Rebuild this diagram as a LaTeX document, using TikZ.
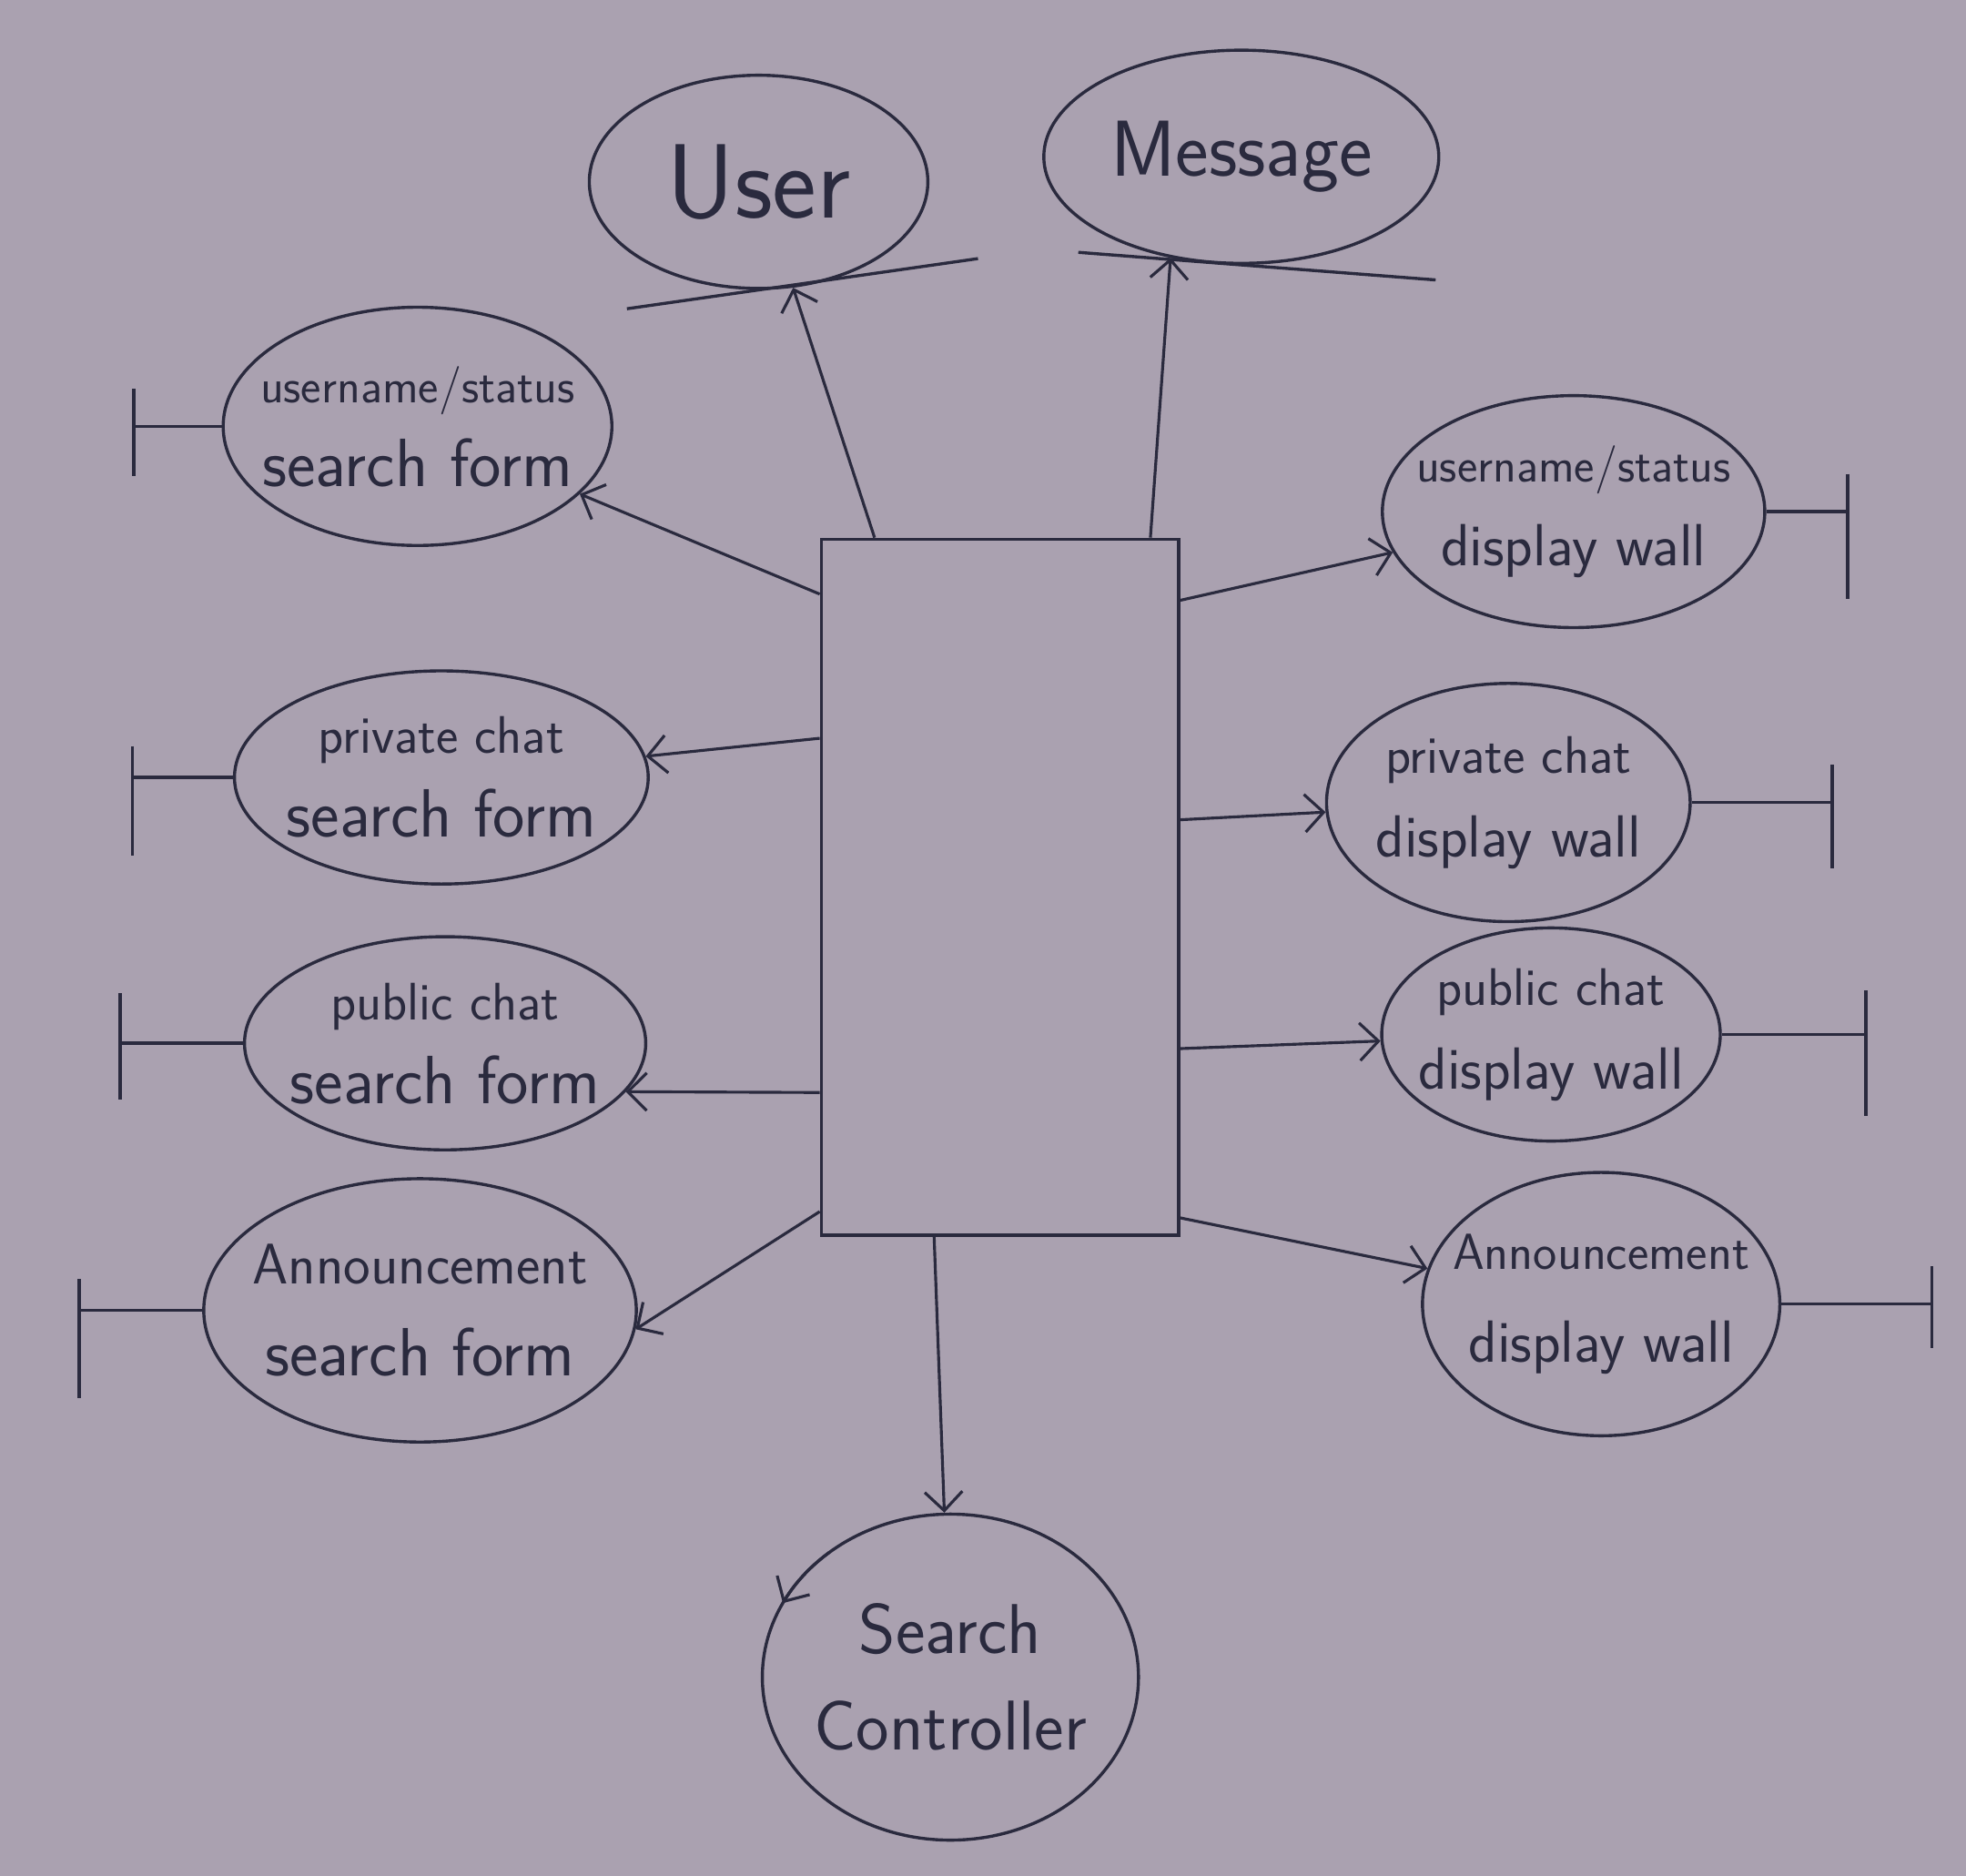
\documentclass[tikz,border=0pt]{standalone}
\usepackage{fontspec}
\usetikzlibrary{shapes, arrows.meta, calc, positioning}
\definecolor{paper}{RGB}{170,161,176}
\definecolor{ink}{RGB}{42,42,62}
\newcommand{\smalltxt}[1]{{\fontsize{22}{26}\selectfont #1}}
\newcommand{\midtxt}[1]{{\fontsize{24}{28}\selectfont #1}}
\newcommand{\bigtxt}[1]{{\fontsize{31}{36}\selectfont #1}}
\newcommand{\walltxt}[1]{{\fontsize{27}{32}\selectfont #1}}
\tikzstyle{boundary} = [ellipse, draw=ink, line width=1.4pt, inner sep=0pt]
\tikzstyle{entity} = [ellipse, draw=ink, line width=1.4pt, inner sep=0pt]
\tikzstyle{control} = [ellipse, draw=ink, line width=1.4pt, inner sep=0pt]
\tikzstyle{arr} = [-{Straight Barb[length=3mm,width=6mm]}, draw=ink, line width=1.3pt]
\tikzstyle{stub} = [draw=ink, line width=1.4pt]
\tikzset{every label/.style={text=ink, font=\sffamily\fontsize{27}{38}\selectfont, align=center}}

\begin{document}
\begin{tikzpicture}
	\fill[paper] (0,0) rectangle (31.36,-29.92);

	\node (Main) [draw=ink, line width=1.4pt, minimum width=5.7cm, minimum height=11.1cm] at (15.95,-14.15) {};

	% entities
	\node (User) [entity, minimum width=5.4cm, minimum height=3.4cm,
		label={[font=\sffamily\fontsize{48}{52}\selectfont]center:User}] at (12.1,-2.9) {};
	\draw[stub] ($(User.south)+(-2.1,-0.3)$) -- ($(User.south)+(3.5,0.5)$);
	\draw[arr] ([xshift=-2cm]Main.north) -- (User);

	\node (Message) [entity, minimum width=6.3cm, minimum height=3.4cm,
		label={[font=\sffamily\fontsize{36}{40}\selectfont]center:Message}] at (19.8,-2.5) {};
	\draw[stub] ($(Message.south)+(-2.6,0.2)$) -- ($(Message.south)+(3.1,-0.24)$);
	\draw[arr] ([xshift=2.4cm]Main.north) -- (Message.235);

	% search forms
	\node (L1) [boundary, minimum width=6.2cm, minimum height=3.8cm,
		label={center:\smalltxt{username/status}\\\bigtxt{search form}}] at (6.66,-6.8) {};
	\coordinate (L1Bar) at ([xshift=-1.4cm]L1.west);
	\draw[stub] (L1.west) -- (L1Bar);
	\draw[stub] ([yshift=0.6cm]L1Bar) -- ([yshift=-0.8cm]L1Bar);
	\draw[arr] ([yshift=-0.9cm]Main.north west) -- (L1);

	\node (L2) [boundary, minimum width=6.6cm, minimum height=3.4cm,
		label={center:\midtxt{private chat}\\\bigtxt{search form}}] at (7.04,-12.4) {};
	\coordinate (L2Bar) at ([xshift=-1.6cm]L2.west);
	\draw[stub] (L2.west) -- (L2Bar);
	\draw[stub] ([yshift=0.5cm]L2Bar) -- ([yshift=-1.25cm]L2Bar);
	\draw[arr] ([yshift=-3.2cm]Main.north west) -- (L2);

	\node (L3) [boundary, minimum width=6.4cm, minimum height=3.4cm,
		label={center:\midtxt{public chat}\\\bigtxt{search form}}] at (7.1,-16.64) {};
	\coordinate (L3Bar) at ([xshift=-1.96cm]L3.west);
	\draw[stub] (L3.west) -- (L3Bar);
	\draw[stub] ([yshift=0.8cm]L3Bar) -- ([yshift=-0.9cm]L3Bar);
	\draw[arr] ([yshift=-8.85cm]Main.north west) -- (L3.345);

	\node (L4) [boundary, minimum width=6.9cm, minimum height=4.2cm,
		label={[font=\sffamily\fontsize{27}{42}\selectfont]center:{\fontsize{26}{30}\selectfont Announcement}\\\bigtxt{search form}}] at (6.7,-20.9) {};
	\coordinate (L4Bar) at ([xshift=-1.96cm]L4.west);
	\draw[stub] (L4.west) -- (L4Bar);
	\draw[stub] ([yshift=0.5cm]L4Bar) -- ([yshift=-1.4cm]L4Bar);
	\draw[arr] ([yshift=0.4cm]Main.south west) -- (L4.355);

	% display walls
	\node (R1) [boundary, minimum width=6.1cm, minimum height=3.7cm,
		label={center:\smalltxt{username/status}\\\walltxt{display wall}}] at (25.1,-8.16) {};
	\coordinate (R1Bar) at ([xshift=1.3cm]R1.east);
	\draw[stub] (R1.east) -- (R1Bar);
	\draw[stub] ([yshift=0.6cm]R1Bar) -- ([yshift=-1.4cm]R1Bar);
	\draw[arr] ([yshift=-1cm]Main.north east) -- (R1);

	\node (R2) [boundary, minimum width=5.8cm, minimum height=3.8cm,
		label={center:\midtxt{private chat}\\\walltxt{display wall}}] at (24.06,-12.8) {};
	\coordinate (R2Bar) at ([xshift=2.24cm]R2.east);
	\draw[stub] (R2.east) -- (R2Bar);
	\draw[stub] ([yshift=0.6cm]R2Bar) -- ([yshift=-1.05cm]R2Bar);
	\draw[arr] ([yshift=-4.5cm]Main.north east) -- (R2);

	\node (R3) [boundary, minimum width=5.4cm, minimum height=3.4cm,
		label={center:\midtxt{public chat}\\\walltxt{display wall}}] at (24.74,-16.5) {};
	\coordinate (R3Bar) at ([xshift=2.3cm]R3.east);
	\draw[stub] (R3.east) -- (R3Bar);
	\draw[stub] ([yshift=0.7cm]R3Bar) -- ([yshift=-1.3cm]R3Bar);
	\draw[arr] ([yshift=-8.15cm]Main.north east) -- (R3);

	\node (R4) [boundary, minimum width=5.7cm, minimum height=4.2cm,
		label={[font=\sffamily\fontsize{27}{42}\selectfont]center:{\fontsize{23}{27}\selectfont Announcement}\\\walltxt{display wall}}] at (25.54,-20.8) {};
	\coordinate (R4Bar) at ([xshift=2.4cm]R4.east);
	\draw[stub] (R4.east) -- (R4Bar);
	\draw[stub] ([yshift=0.6cm]R4Bar) -- ([yshift=-0.7cm]R4Bar);
	\draw[arr] ([yshift=0.3cm]Main.south east) -- (R4);

	% controller
	\node (SC) [control, minimum width=6cm, minimum height=5.2cm,
		label={[font=\sffamily\fontsize{32}{44}\selectfont]center:Search\\Controller}] at (15.16,-26.75) {};
	\draw[arr] ($(SC.center)+(130:3cm and 2.6cm)$) arc[start angle=130, end angle=153, x radius=3cm, y radius=2.6cm];
	\draw[arr] ([xshift=-1.05cm]Main.south) -- (SC);
\end{tikzpicture}
\end{document}
